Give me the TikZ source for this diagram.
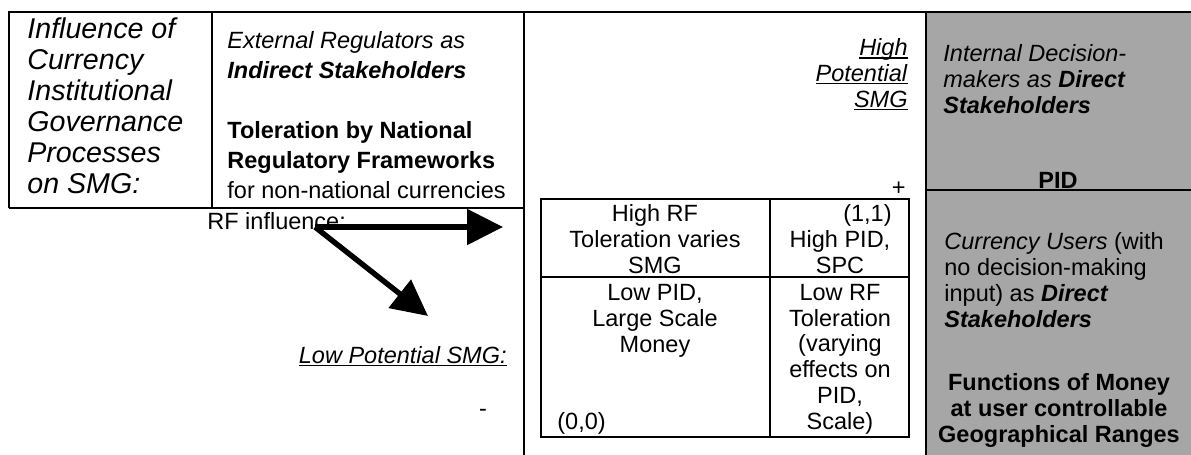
\documentclass[tikz,border=0pt]{standalone}
\usepackage{fontspec}
\setmainfont{Liberation Sans}
\usetikzlibrary{arrows.meta}
\definecolor{cellgray}{HTML}{A6A6A6}
\newcommand{\ulword}[1]{\setbox0\hbox{#1}\rlap{\rule[-1.5pt]{\wd0}{0.7pt}}\box0}

\begin{document}
\begin{tikzpicture}[x=0.5pt,y=0.5pt,
  titletext/.style={font=\fontsize{14.3}{15.5}\selectfont\itshape, align=left},
  celltext/.style={font=\fontsize{11.75}{12.85}\selectfont},
  loosetext/.style={font=\fontsize{11.75}{15}\selectfont, align=left},
  gridline/.style={black, line width=0.6pt},
  influence/.style={black, line width=2.7pt, -{Triangle[length=18pt,width=17.5pt]}}]
\tikzstyle{every node}+=[inner sep=0pt]
\useasboundingbox (0,0) rectangle (1191,-455);
\fill [cellgray] (926,-12) rectangle (1191,-455);
\draw [gridline] (9,-208) -- (9,-12) -- (1191,-12);
\draw [gridline] (9,-208) -- (524,-208);
\draw [gridline] (212,-12) -- (212,-208);
\draw [gridline] (524,-12) -- (524,-455);
\draw [gridline] (926,-12) -- (926,-455);
\draw [gridline] (926,-190) -- (1191,-190);
\draw [gridline] (541,-199) rectangle (909,-437);
\draw [gridline] (770,-199) -- (770,-437);
\draw [gridline] (541,-277) -- (909,-277);
\node [titletext, anchor=base west] (govtitle) at (27,-193) {Influence of\\Currency\\Institutional\\Governance\\Processes\\on SMG:};
\node [loosetext, anchor=base west] (regulators) at (227,-78) {\textit{External Regulators as}\\\textbf{\textit{Indirect Stakeholders}}};
\node [loosetext, anchor=base west] (toleration) at (227,-198) {\textbf{Toleration by National}\\\textbf{Regulatory Frameworks}\\for non-national currencies};
\node [celltext, anchor=base west] (rflabel) at (207,-229) {RF influence:};
\coordinate (rfsrc) at (315,-227);
\coordinate (rfhigh) at (503,-227);
\coordinate (rflow) at (428,-316);
\draw [influence] (rfsrc) -- (rfhigh);
\draw [influence] (rfsrc) -- (rflow);
\node [celltext, anchor=base east] (lowsmg) at (507,-363) {\ulword{\textit{Low Potential SMG:}}};
\node [celltext, anchor=base] (minus) at (483,-416) {-};
\node [celltext, align=right, anchor=base east] (highsmg) at (908,-107) {\ulword{\textit{High}}\\\ulword{\textit{Potential}}\\\ulword{\textit{SMG}}};
\node [celltext, anchor=base east] (plus) at (906,-195) {+};
\node [celltext, align=center, anchor=base] (highrf) at (655,-273) {High RF\\Toleration varies\\SMG};
\node [celltext, anchor=base east] (oneone) at (892,-221) {(1,1)};
\node [celltext, align=center, anchor=base] (highpid) at (840,-273) {High PID,\\SPC};
\node [celltext, align=center, anchor=base] (lowpid) at (655,-352) {Low PID,\\Large Scale\\Money};
\node [celltext, anchor=base west] (zerozero) at (557,-429) {(0,0)};
\node [celltext, align=center, anchor=base] (lowrf) at (840,-429) {Low RF\\Toleration\\(varying\\effects on\\PID,\\Scale)};
\node [celltext, align=left, anchor=base west] (internal) at (943,-113) {\textit{Internal Decision-}\\\textit{makers as \textbf{Direct}}\\\textbf{\textit{Stakeholders}}};
\node [celltext, anchor=base] (pid) at (1058,-188) {\textbf{PID}};
\node [celltext, align=left, anchor=base west] (users) at (944,-327) {\textit{Currency Users} (with\\no decision-making\\input) as \textbf{\textit{Direct}}\\\textbf{\textit{Stakeholders}}};
\node [celltext, align=center, anchor=base] (functions) at (1059,-442) {\textbf{Functions of Money}\\\textbf{at user controllable}\\\textbf{Geographical Ranges}};
\end{tikzpicture}
\end{document}
